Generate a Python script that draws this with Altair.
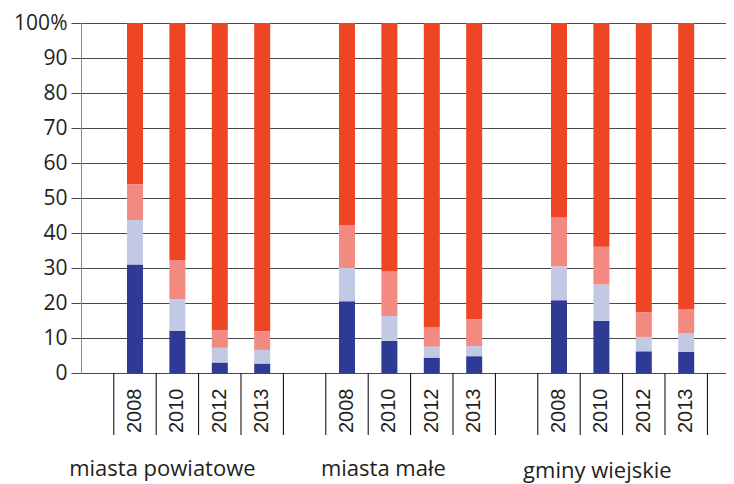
import altair as alt
import pandas as pd

groups = ["miasta powiatowe", "miasta małe", "gminy wiejskie"]
group_keys = ["g1", "g2", "g3"]
years = ["2008", "2010", "2012", "2013"]
series = ["s1", "s2", "s3", "s4"]
colors = ["#2e3a94", "#c2c9e5", "#f28a82", "#ee4524"]

dark = [[31.0, 12.0, 3.0, 2.7], [20.5, 9.2, 4.4, 4.8], [20.8, 14.9, 6.2, 6.0]]
light = [[12.7, 9.1, 4.2, 3.9], [9.5, 7.1, 3.1, 2.9], [9.7, 10.4, 4.1, 5.4]]
pink = [[10.2, 11.1, 5.0, 5.3], [12.3, 12.7, 5.6, 7.7], [14.1, 10.8, 7.1, 6.9]]
red = [[46.1, 67.8, 87.8, 88.1], [57.7, 71.0, 86.9, 84.6], [55.4, 63.9, 82.6, 81.7]]

# slot order on the x axis (gap slots separate the groups)
slots = []
for gi, gk in enumerate(group_keys):
    for y in years:
        slots.append(f"{gk}_{y}")
    if gi < len(group_keys) - 1:
        slots.append(f"gap{gi + 1}")

rows = []
for gi, gk in enumerate(group_keys):
    for yi, y in enumerate(years):
        for si, vals in enumerate([dark, light, pink, red]):
            rows.append({"slot": f"{gk}_{y}", "series": series[si], "ord": si,
                         "value": vals[gi][yi]})
df = pd.DataFrame(rows)

year_df = pd.DataFrame({"slot": [f"{gk}_{y}" for gk in group_keys for y in years],
                        "year": [y for gk in group_keys for y in years]})
slot_df = pd.DataFrame({"slot": slots})
last_df = pd.DataFrame({"slot": [slots[-1]]})

H = 350
xscale = alt.Scale(domain=slots, paddingInner=0, paddingOuter=0.606, align=0.638)

bars = alt.Chart(df).mark_bar(size=16).encode(
    x=alt.X("slot:N", scale=xscale, axis=None),
    y=alt.Y("value:Q", stack="zero", scale=alt.Scale(domain=[0, 100], nice=False),
            axis=alt.Axis(title=None, values=list(range(0, 101, 10)), grid=True,
                          gridColor="#4a4a4a", gridWidth=1, tickColor="#4a4a4a", tickSize=10,
                          domainColor="#888888", labelFont="Open Sans", labelFontSize=21,
                          labelColor="#231f20", labelPadding=4,
                          labelExpr="datum.value == 100 ? '100%' : datum.label")),
    color=alt.Color("series:N", scale=alt.Scale(domain=series, range=colors), legend=None),
    order=alt.Order("ord:Q"),
)

# box lines under the x axis (at every band start, plus the end of the last band)
box_lines = alt.Chart(slot_df).mark_rule(color="#000000", strokeWidth=1).encode(
    x=alt.X("slot:N", scale=xscale, axis=None, bandPosition=0),
    y=alt.value(H), y2=alt.value(H + 62),
)
box_end = alt.Chart(last_df).mark_rule(color="#000000", strokeWidth=1).encode(
    x=alt.X("slot:N", scale=xscale, axis=None, bandPosition=1),
    y=alt.value(H), y2=alt.value(H + 62),
)

year_labels = alt.Chart(year_df).mark_text(
    angle=270, align="left", baseline="middle", font="Liberation Sans",
    fontSize=20, color="#231f20"
).encode(x=alt.X("slot:N", scale=xscale, axis=None), y=alt.value(H + 60), text="year:N")

label_df = pd.DataFrame({"slot": [f"{gk}_2010" for gk in group_keys], "label": groups})
dxs = [-15, -6, -4]
dys = [0, 0, 2]
label_layers = []
for i in range(3):
    label_layers.append(
        alt.Chart(label_df.iloc[[i]].reset_index(drop=True)).mark_text(
            font="Open Sans", fontSize=22, color="#231f20", baseline="alphabetic",
            align="center", dx=dxs[i], dy=dys[i]
        ).encode(x=alt.X("slot:N", scale=xscale, axis=None), y=alt.value(H + 103), text="label:N")
    )

chart = alt.layer(bars, box_lines, box_end, year_labels, *label_layers).properties(
    width=645, height=H,
    autosize=alt.AutoSizeParams(type="none"),
    padding={"left": 73, "top": 15, "right": 0, "bottom": 111},
).configure_view(stroke=None)

chart.save("out.html", embed_options={"renderer": "svg", "actions": False})
